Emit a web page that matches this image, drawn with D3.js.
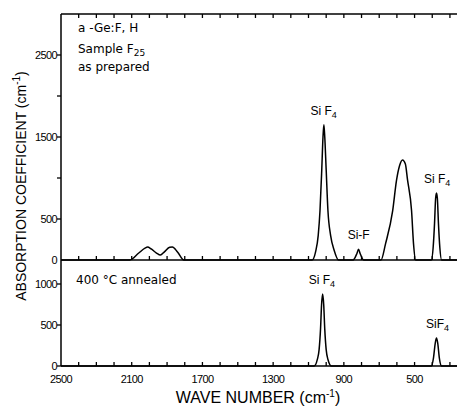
<!DOCTYPE html>
<html>
<head>
<meta charset="utf-8">
<script src="https://cdn.jsdelivr.net/npm/d3@7"></script>
<style>
  body { margin: 0; background: #fff; }
  svg { display: block; }
  text { font-family: "Liberation Sans", "DejaVu Sans", sans-serif; fill: #000; }
</style>
</head>
<body>
<div id="chart"></div>
<script>
'use strict';
// spectra: [wave number, absorption]
const asPrepared = [
    [2500, 0], [2111, 0], [2060, 85], [2025, 145], [2010, 158], [1990, 135], [1960, 85], [1938, 60],
    [1915, 100], [1885, 155], [1870, 158], [1840, 95], [1805, 0],
    [1080, 0], [1060, 100], [1045, 300], [1035, 600], [1025, 1100], [1018, 1500], [1013, 1650],
    [1008, 1500], [1000, 1100], [990, 600], [975, 300], [955, 120], [930, 0],
    [848, 0], [826, 80], [817, 130], [808, 80], [788, 0],
    [690, 0], [664, 200], [624, 600], [602, 975], [585, 1150], [568, 1220], [552, 1170],
    [540, 980], [517, 600], [506, 200], [494, 0],
    [405, 0], [395, 150], [387, 450], [381, 750], [376, 817], [371, 750], [365, 450],
    [357, 150], [347, 0], [260, 0]
];
const annealed = [
    [2500, 0], [1068, 0], [1050, 80], [1040, 200], [1032, 450], [1026, 750], [1020, 878],
    [1014, 750], [1008, 450], [1000, 200], [990, 80], [970, 0],
    [405, 0], [393, 100], [383, 280], [376, 341], [369, 280], [360, 100], [347, 0], [260, 0]
];
const xTickLabels = [2500, 2100, 1700, 1300, 900, 500];
const topTickLabels = [0, 500, 1500, 2500];
const bottomTickLabels = [0, 500, 1000];
const peakLabels = [
    { panel: "top", w: 1014, v: 1650, text: "Si F", sub: "4" },
    { panel: "top", w: 816, v: 130, text: "Si-F", sub: "" },
    { panel: "top", w: 372, v: 817, text: "Si F", sub: "4" },
    { panel: "bottom", w: 1024, v: 878, text: "Si F", sub: "4" },
    { panel: "bottom", w: 370, v: 341, text: "SiF", sub: "4" }
];

const width = 457, height = 406;
const svg = d3.select("#chart").append("svg").attr("width", width).attr("height", height);

let x = d3.scaleLinear().domain([2500, 260]).range([61, 457]);
let yTop = d3.scaleLinear().domain([0, 3000]).range([260, 14]);
let yBot = d3.scaleLinear().domain([0, 1300]).range([366, 259.4]);

let allTicks = d3.range(2500, 250, -100);

// horizontal frame lines with inward ticks
let drawTickLine = (y, dir) => {
    svg.append("line").attr("x1", 61).attr("x2", width).attr("y1", y).attr("y2", y)
        .attr("stroke", "#000").attr("stroke-width", 1.5);
    svg.selectAll(null).data(allTicks.slice(1)).enter().append("line")
        .attr("x1", d => x(d)).attr("x2", d => x(d))
        .attr("y1", y).attr("y2", y + dir * 4)
        .attr("stroke", "#000").attr("stroke-width", 1.3);
}
drawTickLine(yTop(3000), 1);
drawTickLine(yTop(0), -1);
drawTickLine(yBot(0), -1);

// left axis
svg.append("line").attr("x1", 61).attr("x2", 61).attr("y1", yTop(3000)).attr("y2", yBot(0))
    .attr("stroke", "#000").attr("stroke-width", 1.5);

let drawYTicks = (scale, ticks, labels) => {
    svg.selectAll(null).data(ticks).enter().append("line")
        .attr("x1", 57).attr("x2", 61)
        .attr("y1", d => scale(d)).attr("y2", d => scale(d))
        .attr("stroke", "#000").attr("stroke-width", 1.3);
    svg.selectAll(null).data(labels).enter().append("text")
        .attr("x", 57).attr("y", d => scale(d) + 4)
        .attr("text-anchor", "end").attr("font-size", 11).attr("letter-spacing", -0.6)
        .text(d => d);
}
drawYTicks(yTop, [500, 1000, 1500, 2000, 2500], topTickLabels);
drawYTicks(yBot, [0, 500, 1000], bottomTickLabels);

// x labels
svg.selectAll(null).data(xTickLabels).enter().append("text")
    .attr("x", d => x(d)).attr("y", 383)
    .attr("text-anchor", "middle").attr("font-size", 11).attr("letter-spacing", -0.6)
    .text(d => d);

// spectra
let lineTop = d3.line().x(d => x(d[0])).y(d => yTop(d[1])).curve(d3.curveMonotoneX);
let lineBot = d3.line().x(d => x(d[0])).y(d => yBot(d[1])).curve(d3.curveMonotoneX);
svg.append("path").datum(asPrepared.slice().reverse()).attr("d", lineTop)
    .attr("fill", "none").attr("stroke", "#000").attr("stroke-width", 1.5);
svg.append("path").datum(annealed.slice().reverse()).attr("d", lineBot)
    .attr("fill", "none").attr("stroke", "#000").attr("stroke-width", 1.5);

// peak labels
for (let p of peakLabels) {
    let yScale = p.panel === "top" ? yTop : yBot;
    let t = svg.append("text")
        .attr("x", x(p.w)).attr("y", yScale(p.v) - 10)
        .attr("text-anchor", "middle").attr("font-size", 12);
    t.append("tspan").text(p.text);
    if (p.sub) t.append("tspan").attr("font-size", 9).attr("dy", 3).text(p.sub);
}

// panel notes
let note = (xp, yp, parts) => {
    let t = svg.append("text").attr("x", xp).attr("y", yp).attr("font-size", 12)
        .style("font-family", "'DejaVu Sans', sans-serif");
    for (let part of parts) {
        let s = t.append("tspan").text(part[0]);
        if (part[1]) s.attr("font-size", 9).attr("dy", 3);
    }
}
note(78, 32, [["a -Ge:F, H"]]);
note(78, 53, [["Sample F"], ["25", true]]);
note(78, 71, [["as prepared"]]);
note(76, 284, [["400 °C annealed"]]);

// axis titles
let xt = svg.append("text").attr("x", 258).attr("y", 403).attr("text-anchor", "middle")
    .attr("font-size", 16);
xt.append("tspan").text("WAVE NUMBER (cm");
xt.append("tspan").attr("font-size", 10).attr("dy", -6).text("-1");
xt.append("tspan").attr("dy", 6).text(")");

let yt = svg.append("text").attr("transform", "translate(26,186) rotate(-90)")
    .attr("text-anchor", "middle").attr("font-size", 14);
yt.append("tspan").text("ABSORPTION COEFFICIENT (cm");
yt.append("tspan").attr("font-size", 10).attr("dy", -6).text("-1");
yt.append("tspan").attr("dy", 6).text(")");
</script>
</body>
</html>
